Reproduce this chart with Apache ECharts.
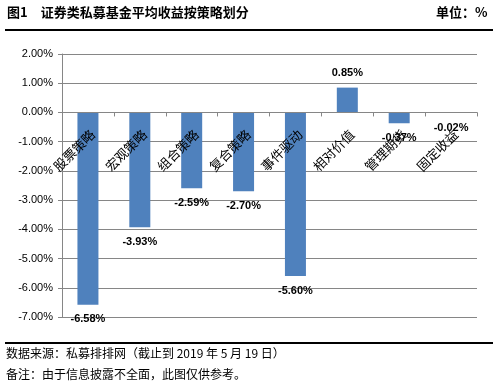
<!DOCTYPE html>
<html><head><meta charset="utf-8">
<script src="https://cdn.jsdelivr.net/npm/echarts@6/dist/echarts.min.js"></script>
<style>html,body{margin:0;padding:0;background:#fff}#c{width:497px;height:387px}</style>
</head><body><div id="c"></div>
<script>
const categories = ['股票策略','宏观策略','组合策略','复合策略','事件驱动','相对价值','管理期货','固定收益'];
const values = [-6.58, -3.93, -2.59, -2.70, -5.60, 0.85, -0.37, -0.02];
const yTicks = {min: -7, max: 2, interval: 1};
const titleText = '图1　证券类私募基金平均收益按策略划分';
const unitText = '单位：%';
const notes = ['数据来源：私募排排网（截止到 2019 年 5 月 19 日）', '备注：由于信息披露不全面，此图仅供参考。'];

const W = 497, H = 387;
const G = {left: 62, right: 20, top: 54, bottom: 70};
const plotH = H - G.top - G.bottom;
const zeroOffset = -plotH * (0 - yTicks.min) / (yTicks.max - yTicks.min);

const chart = echarts.init(document.getElementById('c'));
const cjk = '"Noto Sans CJK SC", sans-serif';
chart.setOption({
  animation: false,
  grid: Object.assign({containLabel: false}, G),
  xAxis: {
    type: 'category', data: categories,
    offset: zeroOffset, z: 10,
    axisLine: {onZero: false, lineStyle: {color: '#868686'}},
    axisTick: {show: true, alignWithLabel: false, length: 4, lineStyle: {color: '#868686'}},
    axisLabel: {rotate: 45, interval: 0, margin: 15, verticalAlign: 'top', align: 'right', color: '#000', fontSize: 13, fontFamily: cjk}
  },
  yAxis: {
    type: 'value', min: yTicks.min, max: yTicks.max, interval: yTicks.interval,
    axisLine: {show: true, lineStyle: {color: '#868686'}},
    axisTick: {show: true, length: 4, lineStyle: {color: '#868686'}},
    splitLine: {lineStyle: {color: '#868686'}},
    axisLabel: {color: '#000', fontSize: 11, fontFamily: 'Liberation Sans, sans-serif', margin: 9,
      formatter: v => v.toFixed(2) + '%'}
  },
  series: [{
    type: 'bar', barWidth: 21,
    itemStyle: {color: '#4F81BD'},
    z: 1,
    data: values.map(v => ({value: v, label: {position: v >= 0 ? 'top' : 'bottom'}})),
    label: {show: true, distance: 9, color: '#000', fontWeight: 'bold', fontSize: 11,
      fontFamily: 'Liberation Sans, sans-serif', formatter: p => p.value.toFixed(2) + '%'}
  }],
  graphic: [
    {type: 'text', left: 7, top: 6, style: {text: titleText, font: 'bold 13px ' + cjk, fill: '#000'}},
    {type: 'text', left: 436, top: 6, style: {text: unitText, font: 'bold 13px ' + cjk, fill: '#000'}},
    {type: 'rect', shape: {x: 5, y: 29, width: 488, height: 2}, style: {fill: '#000'}},
    {type: 'rect', shape: {x: 5, y: 342, width: 488, height: 2}, style: {fill: '#000'}},
    {type: 'text', left: 6, top: 347, style: {text: notes[0], font: '12px ' + cjk, fill: '#000'}},
    {type: 'text', left: 6, top: 368, style: {text: notes[1], font: '12px ' + cjk, fill: '#000'}}
  ]
});
</script></body></html>
